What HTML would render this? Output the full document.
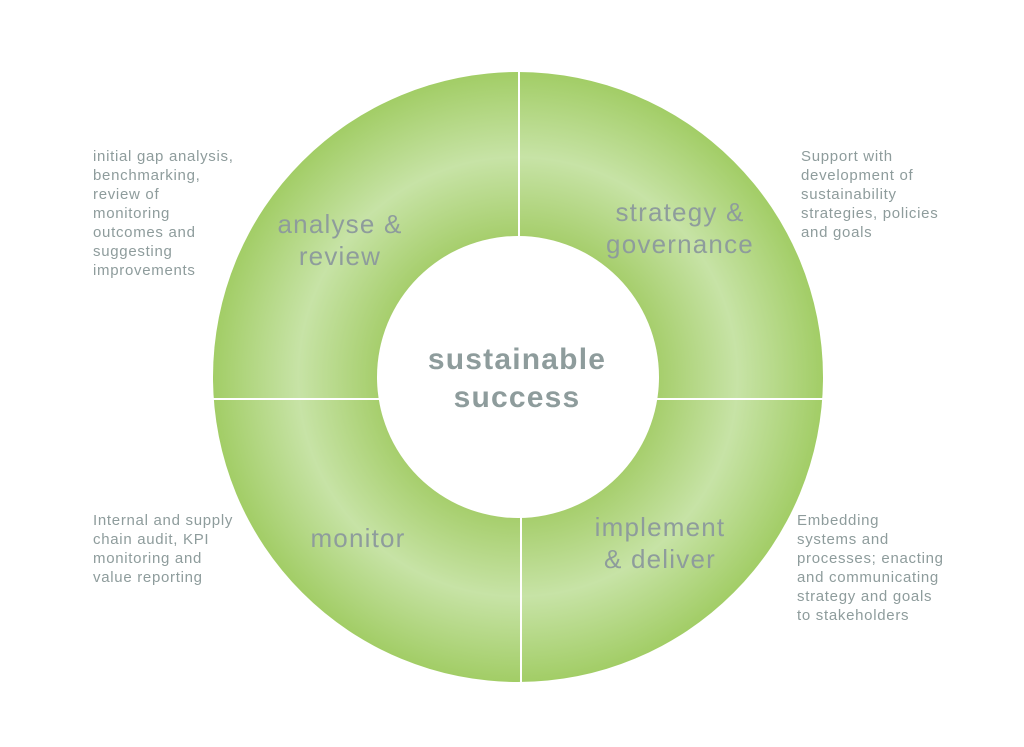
<!DOCTYPE html>
<html><head><meta charset="utf-8"><style>
html,body{margin:0;padding:0;background:#fff;width:1024px;height:747px;overflow:hidden}
svg{display:block}
.s{font-family:"Liberation Sans",sans-serif;font-size:15px;letter-spacing:0.7px;fill:#8e9c9c}
.b{font-family:"Liberation Sans",sans-serif;font-size:26px;letter-spacing:1.2px;fill:#8e9c9c}
.c{font-family:"Liberation Sans",sans-serif;font-size:30px;font-weight:bold;letter-spacing:1.2px;fill:#8e9c9c}
</style></head><body>
<svg width="1024" height="747" viewBox="0 0 1024 747">
<defs>
<radialGradient id="g" cx="518" cy="377" r="305" gradientUnits="userSpaceOnUse">
<stop offset="0.46" stop-color="#a6ce6c"/>
<stop offset="0.72" stop-color="#c7e3a6"/>
<stop offset="1" stop-color="#a2cd66"/>
</radialGradient>
</defs>
<circle cx="518" cy="377" r="305" fill="url(#g)"/>
<circle cx="518" cy="377" r="141" fill="#fff"/>
<line x1="519" y1="70" x2="519" y2="236" stroke="#fff" stroke-width="2"/>
<line x1="521" y1="516" x2="521" y2="685" stroke="#fff" stroke-width="2"/>
<line x1="210" y1="399" x2="380" y2="399" stroke="#fff" stroke-width="2"/>
<line x1="655" y1="399" x2="826" y2="399" stroke="#fff" stroke-width="2"/>
<text class="b" text-anchor="middle" x="340" y="233">analyse &amp;</text>
<text class="b" text-anchor="middle" x="340" y="265">review</text>
<text class="b" text-anchor="middle" x="680" y="221">strategy &amp;</text>
<text class="b" text-anchor="middle" x="680" y="253">governance</text>
<text class="b" text-anchor="middle" x="358" y="547">monitor</text>
<text class="b" text-anchor="middle" x="660" y="536">implement</text>
<text class="b" text-anchor="middle" x="660" y="568">&amp; deliver</text>
<text class="c" text-anchor="middle" x="517" y="369">sustainable</text>
<text class="c" text-anchor="middle" x="517" y="407">success</text>
<g class="s">
<text x="93" y="161">initial gap analysis,</text>
<text x="93" y="180">benchmarking,</text>
<text x="93" y="199">review of</text>
<text x="93" y="218">monitoring</text>
<text x="93" y="237">outcomes and</text>
<text x="93" y="256">suggesting</text>
<text x="93" y="275">improvements</text>
<text x="801" y="161">Support with</text>
<text x="801" y="180">development of</text>
<text x="801" y="199">sustainability</text>
<text x="801" y="218">strategies, policies</text>
<text x="801" y="237">and goals</text>
<text x="93" y="525">Internal and supply</text>
<text x="93" y="544">chain audit, KPI</text>
<text x="93" y="563">monitoring and</text>
<text x="93" y="582">value reporting</text>
<text x="797" y="525">Embedding</text>
<text x="797" y="544">systems and</text>
<text x="797" y="563">processes; enacting</text>
<text x="797" y="582">and communicating</text>
<text x="797" y="601">strategy and goals</text>
<text x="797" y="620">to stakeholders</text>
</g>
</svg>
</body></html>
